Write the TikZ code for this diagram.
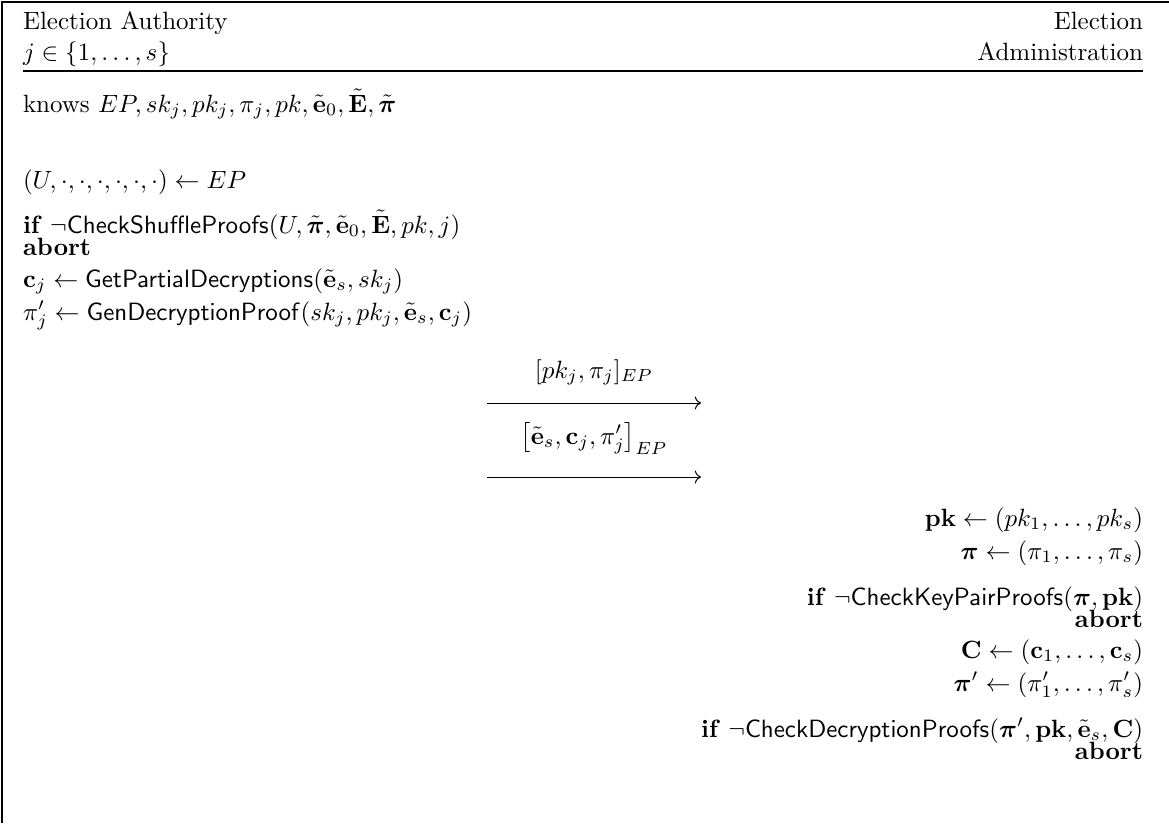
\documentclass[tikz,border=0pt]{standalone}
\usepackage{amsmath,amssymb,bm}
\usetikzlibrary{arrows.meta}
\tikzset{
  L/.style={anchor=base west,inner sep=0pt,outer sep=0pt},
  R/.style={anchor=base east,inner sep=0pt,outer sep=0pt},
  msg/.style={->,line width=0.4pt},
  msglabel/.style={anchor=base,inner sep=0pt},
  frame/.style={line width=0.5pt},
  rule/.style={line width=0.5pt}
}
\newcommand{\kif}{\textbf{if}}
\newcommand{\kabort}{\textbf{abort}}
\newcommand{\bv}[1]{\mathbf{#1}}
\begin{document}
\begin{tikzpicture}[x=0.4pt,y=-0.4pt]
\useasboundingbox (0,0) rectangle (1169,823);
% frame (top and left only)
\draw[frame] (1169,2) -- (2,2) -- (2,823);
% header
\node[L] (ea) at (23,29) {Election Authority};
\node[L] (jj) at (23,60) {$j\in\{1,\dots,s\}$};
\node[R] (ad1) at (1143,29) {Election};
\node[R] (ad2) at (1143,60) {Administration};
\coordinate (rl) at (23,71);
\coordinate (rr) at (1143,71);
\draw[rule] (rl) -- (rr);
% left column
\node[L] (knows) at (23,112) {knows $EP, sk_j, pk_j, \pi_j, pk, \tilde{\bv{e}}_0, \tilde{\bv{E}}, \tilde{\bm{\pi}}$};
\node[L] (l1) at (23,188) {$(U,\cdot,\cdot,\cdot,\cdot,\cdot,\cdot)\leftarrow EP$};
\node[L] (l2) at (23,233) {\kif{} $\neg\mathsf{CheckShuffleProofs}(U,\tilde{\bm{\pi}},\tilde{\bv{e}}_0,\tilde{\bv{E}},pk,j)$};
\node[L] (l3) at (23,255) {\kabort};
\node[L] (l4) at (23,287) {$\bv{c}_j\leftarrow\mathsf{GetPartialDecryptions}(\tilde{\bv{e}}_s,sk_j)$};
\node[L] (l5) at (23,320) {$\pi'_j\leftarrow\mathsf{GenDecryptionProof}(sk_j,pk_j,\tilde{\bv{e}}_s,\bv{c}_j)$};
% messages
\coordinate (m1s) at (487,403);
\coordinate (m1e) at (701,403);
\draw[msg] (m1s) -- (m1e);
\node[msglabel] (m1l) at (594,378) {$[pk_j,\pi_j]_{EP}$};
\coordinate (m2s) at (487,477);
\coordinate (m2e) at (701,477);
\draw[msg] (m2s) -- (m2e);
\node[msglabel] (m2l) at (594,444) {$\bigl[\tilde{\bv{e}}_s,\bv{c}_j,\pi'_j\bigr]_{EP}$};
% right column
\node[R] (r1) at (1143,526) {$\bv{pk}\leftarrow(pk_1,\dots,pk_s)$};
\node[R] (r2) at (1143,559) {$\bm{\pi}\leftarrow(\pi_1,\dots,\pi_s)$};
\node[R] (r3) at (1143,605) {\kif{} $\neg\mathsf{CheckKeyPairProofs}(\bm{\pi},\bv{pk})$};
\node[R] (r4) at (1143,627) {\kabort};
\node[R] (r5) at (1143,658) {$\bv{C}\leftarrow(\bv{c}_1,\dots,\bv{c}_s)$};
\node[R] (r6) at (1143,691) {$\bm{\pi}'\leftarrow(\pi'_1,\dots,\pi'_s)$};
\node[R] (r7) at (1143,737) {\kif{} $\neg\mathsf{CheckDecryptionProofs}(\bm{\pi}',\bv{pk},\tilde{\bv{e}}_s,\bv{C})$};
\node[R] (r8) at (1143,759) {\kabort};
\end{tikzpicture}
\end{document}
